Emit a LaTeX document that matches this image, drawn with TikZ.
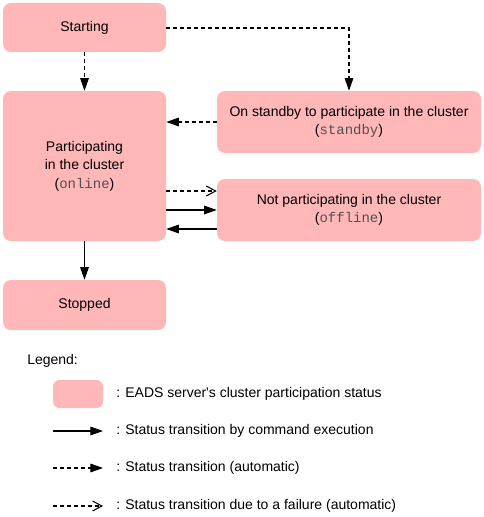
\documentclass[tikz,border=0pt]{standalone}
\usepackage{fontspec}
\setmainfont{Liberation Sans}
\setmonofont{Liberation Mono}
\newfontfamily\plainsans{Liberation Sans}
\usetikzlibrary{arrows.meta}
\definecolor{statefill}{HTML}{FFB7B7}
\definecolor{monogray}{HTML}{505050}
\begin{document}
\begin{tikzpicture}[x=0.75pt,y=-0.75pt,
  state/.style={fill=statefill,draw=none,rounded corners=6pt,align=center,
    font=\fontsize{10.5}{13.8}\selectfont,inner sep=0pt},
  cmd/.style={draw=black,line width=0.8pt,-{Triangle[length=9.5pt,width=6.5pt]}},
  auto/.style={draw=black,line width=0.8pt,dash pattern=on 3pt off 2.25pt,-{Triangle[length=9.5pt,width=6.5pt]}},
  fail/.style={draw=black,line width=0.8pt,dash pattern=on 3pt off 2.25pt,-{Straight Barb[length=7pt,width=7.5pt,line width=0.8pt]}},
  lgtext/.style={anchor=west,font=\fontsize{10.5}{12}\selectfont,inner sep=0pt}]
\useasboundingbox (0,0) rectangle (484,517);
\newcommand{\mtx}[1]{{\ttfamily\color{monogray}#1}}
\node[state,minimum width=122.25pt,minimum height=36.75pt] (start) at (84.5,27.5) {Starting};
\node[state,minimum width=122.25pt,minimum height=112.5pt] (online) at (84.5,166) {Participating\\in the cluster\\(\mtx{online})};
\node[state,minimum width=198pt,minimum height=46.5pt] (standby) at (349,122) {On standby to participate in the cluster\\(\mtx{standby})};
\node[state,minimum width=198pt,minimum height=46.5pt] (offline) at (349,210) {Not participating in the cluster\\(\mtx{offline})};
\node[state,minimum width=122.25pt,minimum height=37.5pt] (stopped) at (84.5,305) {Stopped};
\coordinate (corner) at (349,28);
\draw[auto] (start.south) -- (online.north);
\draw[auto] (start.east |- corner) -- (corner) -- (standby.north);
\draw[auto] (standby.west) -- (online.east |- standby.west);
\draw[fail] (online.east |- 0,191) -- (offline.west |- 0,191);
\draw[cmd] (online.east |- 0,210) -- (offline.west |- 0,210);
\draw[cmd] (offline.west |- 0,229) -- (online.east |- 0,229);
\draw[cmd] (online.south) -- (stopped.north);
% legend
\node[lgtext] (lg) at (27,361) {Legend:};
\node[fill=statefill,rounded corners=5pt,minimum width=37.5pt,minimum height=21pt,inner sep=0pt] (lgbox) at (78,394) {};
\node[lgtext] (t1) at (116,394) {: EADS server{\plainsans '}s cluster participation status};
\coordinate (l2a) at (53,431); \coordinate (l2b) at (103,431);
\node[lgtext] (t2) at (116,431) {: Status transition by command execution};
\coordinate (l3a) at (53,468); \coordinate (l3b) at (103,468);
\node[lgtext] (t3) at (116,468) {: Status transition (automatic)};
\coordinate (l4a) at (53,506); \coordinate (l4b) at (103,506);
\node[lgtext] (t4) at (116,506) {: Status transition due to a failure (automatic)};
\draw[cmd] (l2a) -- (l2b);
\draw[auto] (l3a) -- (l3b);
\draw[fail] (l4a) -- (l4b);
\end{tikzpicture}
\end{document}
